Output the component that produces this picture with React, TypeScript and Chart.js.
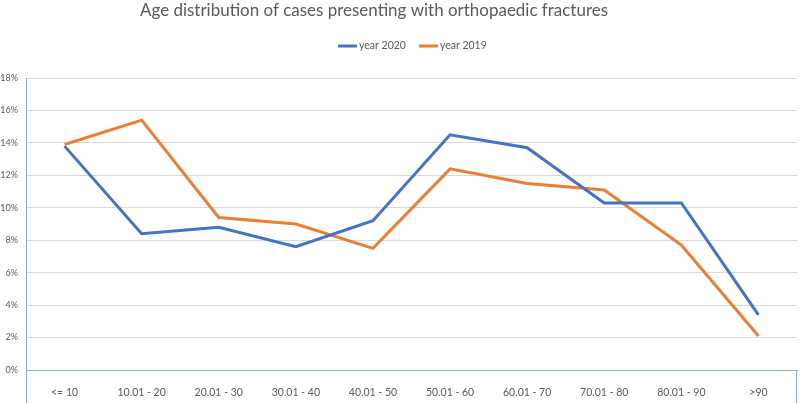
import React, { useEffect, useRef } from "react";
import { Chart, registerables } from "chart.js";

Chart.register(...registerables);

const categories = ["<= 10", "10.01 - 20", "20.01 - 30", "30.01 - 40", "40.01 - 50", "50.01 - 60", "60.01 - 70", "70.01 - 80", "80.01 - 90", ">90"];
const year2020 = [13.8, 8.4, 8.8, 7.6, 9.2, 14.5, 13.7, 10.3, 10.3, 3.4];
const year2019 = [13.9, 15.4, 9.4, 9.0, 7.5, 12.4, 11.5, 11.1, 7.7, 2.1];
const yMin = 0;
const yMax = 18;
const yStep = 2;
const titleText = "Age distribution of cases presenting with orthopaedic fractures";

const FONT = "Lato, 'Open Sans', sans-serif";
const TEXT = "#595959";
const AXIS = "#8eaadb";

const decorPlugin = {
  id: "decor",
  afterDraw(chart: any) {
    const ctx = chart.ctx as CanvasRenderingContext2D;
    const a = chart.chartArea;
    const H = chart.height;
    ctx.save();
    ctx.strokeStyle = AXIS;
    ctx.lineWidth = 1;
    ctx.beginPath();
    ctx.moveTo(a.left + 0.5, a.bottom);
    ctx.lineTo(a.left + 0.5, H);
    ctx.moveTo(a.right - 0.5, a.bottom);
    ctx.lineTo(a.right - 0.5, H);
    ctx.stroke();

    // title
    ctx.fillStyle = TEXT;
    ctx.font = `400 17px ${FONT}`;
    ctx.textAlign = "left";
    ctx.textBaseline = "alphabetic";
    ctx.fillText(titleText, 140, 16, 468);

    // legend
    ctx.font = `10.5px ${FONT}`;
    ctx.textBaseline = "middle";
    let x = 338;
    const y = 46;
    chart.data.datasets.forEach((ds: any) => {
      ctx.strokeStyle = ds.borderColor;
      ctx.lineWidth = 3;
      ctx.beginPath();
      ctx.moveTo(x, y);
      ctx.lineTo(x + 19, y);
      ctx.stroke();
      ctx.fillStyle = TEXT;
      ctx.fillText(ds.label, x + 21, y);
      x += 21 + ctx.measureText(ds.label).width + 13;
    });
    ctx.restore();
  },
};

export default function App() {
  const ref = useRef<HTMLCanvasElement | null>(null);
  useEffect(() => {
    document.body.style.margin = "0";
    const chart = new Chart(ref.current as HTMLCanvasElement, {
      type: "line",
      data: {
        labels: categories,
        datasets: [
          { label: "year 2020", data: year2020, borderColor: "#4472c4", backgroundColor: "#4472c4", borderWidth: 3, pointRadius: 0, tension: 0 },
          { label: "year 2019", data: year2019, borderColor: "#ed7d31", backgroundColor: "#ed7d31", borderWidth: 3, pointRadius: 0, tension: 0 },
        ],
      },
      options: {
        animation: false,
        responsive: false,
        devicePixelRatio: 1,
        layout: { padding: { top: 78, right: 3, left: 0, bottom: 0 } },
        plugins: { legend: { display: false }, title: { display: false }, tooltip: { enabled: false } },
        scales: {
          x: {
            offset: true,
            grid: { display: false },
            border: { display: true, color: AXIS, width: 1 },
            ticks: { color: TEXT, font: { family: FONT, size: 10.5 }, padding: 8, maxRotation: 0, autoSkip: false },
            afterFit: (s: any) => { s.height = 33; },
          },
          y: {
            min: yMin,
            max: yMax,
            grid: { color: "#d9d9d9", drawTicks: false },
            border: { display: true, color: AXIS, width: 1 },
            ticks: { stepSize: yStep, color: TEXT, font: { family: FONT, size: 9 }, padding: 8, callback: (v: any) => v + "%" },
            afterFit: (s: any) => { s.width = 26; },
          },
        },
      },
      plugins: [decorPlugin],
    });
    return () => chart.destroy();
  }, []);
  return (
    <div style={{ width: 800, height: 403 }}>
      <canvas ref={ref} width={800} height={403} style={{ display: "block" }} />
    </div>
  );
}
